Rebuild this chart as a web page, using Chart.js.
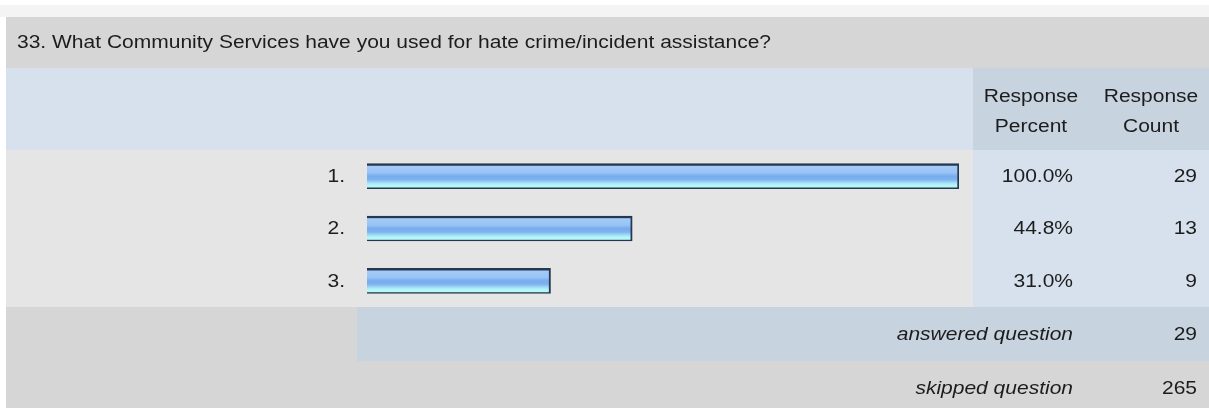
<!DOCTYPE html>
<html lang="en">
<head>
<meta charset="UTF-8">
<title>Q33 Community Services</title>
<script src="https://cdn.jsdelivr.net/npm/chart.js"></script>
<style>
  body { margin: 0; background: #fff; }
  #wrap { width: 1209px; height: 408px; }
</style>
</head>
<body>
<div id="wrap"><canvas id="q33" width="1209" height="408"></canvas></div>
<script>
const question = '33. What Community Services have you used for hate crime/incident assistance?';
const categories = ['1.', '2.', '3.'];
const responsePercent = [100.0, 44.8, 31.0];
const responseCount = [29, 13, 9];
const headerPercent = ['Response', 'Percent'];
const headerCount = ['Response', 'Count'];
const answeredLabel = 'answered question';
const answeredQuestion = 29;
const skippedLabel = 'skipped question';
const skippedQuestion = 265;

// the survey export is stretched sideways, so text gets the same squeeze
const STRETCH = 1.2;

function txt(ctx, s, x, y, align, italic) {
    ctx.save();
    ctx.font = (italic ? 'italic ' : '') + '17.5px "Liberation Sans", Arial, sans-serif';
    ctx.fillStyle = '#1c1c1c';
    ctx.textAlign = align;
    ctx.textBaseline = 'middle';
    ctx.translate(x, y);
    ctx.scale(STRETCH, 1);
    ctx.fillText(s, 0, 0);
    ctx.restore();
}

function box(ctx, color, x1, y1, x2, y2) {
    ctx.fillStyle = color;
    ctx.fillRect(x1, y1, x2 - x1, y2 - y1);
}

const tablePlugin = {
    id: 'surveyTable',
    beforeDraw(chart) {
        const ctx = chart.ctx;
        const area = chart.chartArea;
        const W = chart.width, H = chart.height;
        const colSplit = 973;
        box(ctx, '#ffffff', 0, 0, W, H);
        box(ctx, '#f4f4f4', 0, 5, W, 17);
        box(ctx, '#d6d6d6', 6, 17, W, 68);
        box(ctx, '#d6e1ed', 6, 68, colSplit, area.top);
        box(ctx, '#c7d3df', colSplit, 68, W, area.top);
        box(ctx, '#e5e5e5', 6, area.top, colSplit, area.bottom);
        box(ctx, '#d6e1ed', colSplit, area.top, W, area.bottom);
        box(ctx, '#d6d6d6', 6, area.bottom, W, H);
        box(ctx, '#c7d3df', 357, area.bottom, W, 361);
    },
    afterDraw(chart) {
        const ctx = chart.ctx;
        const y = chart.scales.y;
        txt(ctx, question, 17, 43.5, 'left');
        txt(ctx, headerPercent[0], 1031, 97, 'center');
        txt(ctx, headerPercent[1], 1031, 127, 'center');
        txt(ctx, headerCount[0], 1151, 97, 'center');
        txt(ctx, headerCount[1], 1151, 127, 'center');
        categories.forEach((c, i) => {
            const py = y.getPixelForValue(i);
            txt(ctx, c, 345, py + 1, 'right');
            txt(ctx, responsePercent[i].toFixed(1) + '%', 1073, py + 1, 'right');
            txt(ctx, String(responseCount[i]), 1197, py + 1, 'right');
        });
        txt(ctx, answeredLabel, 1073, 335, 'right', true);
        txt(ctx, String(answeredQuestion), 1197, 335, 'right');
        txt(ctx, skippedLabel, 1073, 389, 'right', true);
        txt(ctx, String(skippedQuestion), 1197, 389, 'right');
    }
};

function barFill(c) {
    const chart = c.chart;
    const y = chart.scales.y;
    if (!chart.chartArea || !y) return '#86b8f0';
    const mid = y.getPixelForValue(c.dataIndex);
    const g = chart.ctx.createLinearGradient(0, mid - 12.5, 0, mid + 12.5);
    g.addColorStop(0, '#a6cff9');
    g.addColorStop(0.36, '#98c4f5');
    g.addColorStop(0.5, '#78acef');
    g.addColorStop(0.64, '#7eb3f0');
    g.addColorStop(0.79, '#aae6f7');
    g.addColorStop(0.86, '#b3f7f9');
    g.addColorStop(1, '#b3f7f9');
    return g;
}

new Chart(document.getElementById('q33').getContext('2d'), {
    type: 'bar',
    data: {
        labels: categories,
        datasets: [{
            data: responsePercent,
            backgroundColor: barFill,
            borderColor: '#27374f',
            borderWidth: { top: 2.5, right: 2, bottom: 1.5, left: 0 },
            borderSkipped: false,
            barThickness: 25
        }]
    },
    options: {
        indexAxis: 'y',
        responsive: false,
        animation: false,
        layout: { padding: { left: 367, right: 250, top: 150, bottom: 101 } },
        plugins: { legend: { display: false }, tooltip: { enabled: false } },
        scales: {
            x: { display: false, min: 0, max: 100 },
            y: { display: false }
        }
    },
    plugins: [tablePlugin]
});
</script>
</body>
</html>
